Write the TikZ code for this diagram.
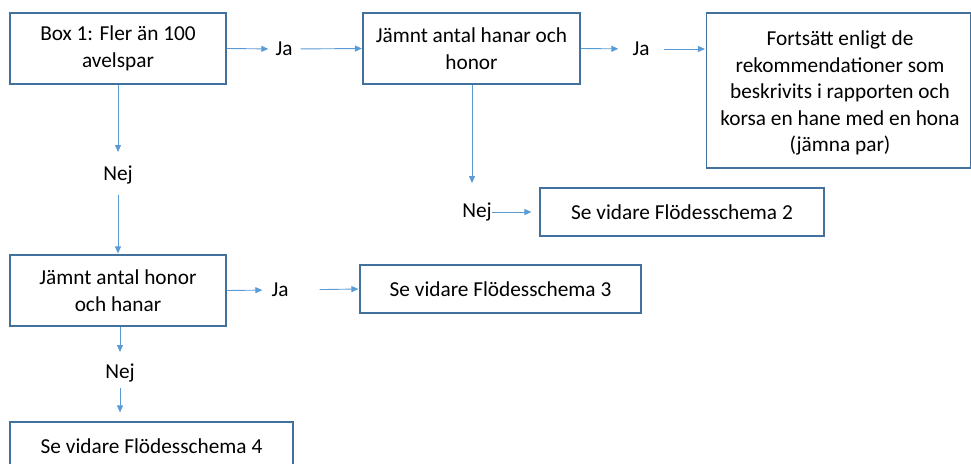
\documentclass[tikz,border=0pt]{standalone}
\usepackage{fontspec}
\setmainfont{Carlito}
\usetikzlibrary{arrows.meta}
\definecolor{boxline}{HTML}{41719C}
\definecolor{flow}{HTML}{5B9BD5}
\begin{document}
\begin{tikzpicture}[x=1pt,y=-1pt,
  txt/.style={font=\fontsize{21.3}{26.5}\selectfont, text=black},
  stepbox/.style={txt, draw=boxline, line width=1.2pt, inner sep=0pt, align=center},
  lbl/.style={txt, inner sep=0pt},
  arr/.style={draw=flow, line width=0.9pt, -{Triangle[length=7pt,width=6pt]}}]
\useasboundingbox (0,0) rectangle (971,463);
\begin{scope}
\clip (0,0) rectangle (971,463);
% boxes
\node[stepbox, minimum width=216, minimum height=71] (b1) at (118,48.5)
  {Box 1: Fler än 100\\avelspar};
\node[stepbox, minimum width=217, minimum height=71] (b2) at (471.5,48.5)
  {Jämnt antal hanar och\\honor};
\node[stepbox, minimum width=264, minimum height=155] (b3) at (838.5,90.5) {};
\node[txt, align=center, inner sep=0pt] (b3t) at (840,93)
  {Fortsätt enligt de\\rekommendationer som\\beskrivits i rapporten och\\korsa en hane med en hona\\(jämna par)};
\node[stepbox, minimum width=216, minimum height=71] (b4) at (118,290.5)
  {Jämnt antal honor\\och hanar};
\node[stepbox, minimum width=281, minimum height=48] (b5) at (500.5,289)
  {Se vidare Flödesschema 3};
\node[stepbox, minimum width=284, minimum height=48] (b6) at (682,212)
  {Se vidare Flödesschema 2};
\node[stepbox, minimum width=283, minimum height=48] (b7) at (151.5,446)
  {Se vidare Flödesschema 4};
\end{scope}
% labels
\node[lbl] (ja1) at (284,49) {Ja};
\node[lbl] (ja2) at (641,49) {Ja};
\node[lbl] (ja3) at (280,290) {Ja};
\node[lbl] (nej1) at (118,175) {Nej};
\node[lbl] (nej2) at (477,212) {Nej};
\node[lbl] (nej3) at (120,373) {Nej};
% connector end points beside the labels
\coordinate (n1a) at (118,152);
\coordinate (n1b) at (118,195);
\coordinate (n2a) at (472,183);
\coordinate (n3a) at (120,352);
\coordinate (n3b) at (120,388);
% connectors
\draw[arr, shorten >=7pt] (b1.east) -- (ja1.west);
\draw[arr, shorten <=8pt, shorten >=0.5pt] (ja1.east) -- (b2.west);
\draw[arr, shorten >=14pt] (b2.east) -- (ja2.west);
\draw[arr, shorten <=14pt, shorten >=1pt] (ja2.east) -- (ja2.east -| b3.west);
\draw[arr, shorten >=9pt] (b4.east) -- (ja3.west);
\draw[arr, shorten <=31pt, shorten >=1pt] (ja3.east) -- (b5.west);
\draw[arr] (b1.south) -- (n1a);
\draw[arr, shorten >=1pt] (n1b) -- (n1b |- b4.north);
\draw[arr] (n3a |- b4.south) -- (n3a);
\draw[arr, shorten >=9pt] (n3b) -- (n3b |- b7.north);
\draw[arr] (n2a |- b2.south) -- (n2a);
\draw[arr, shorten >=8pt] (nej2.east) -- (b6.west);
\end{tikzpicture}
\end{document}
